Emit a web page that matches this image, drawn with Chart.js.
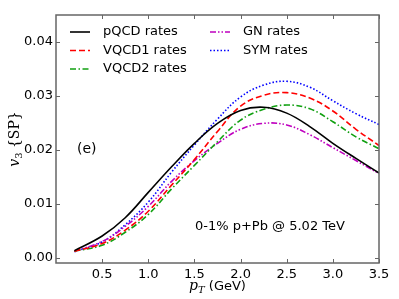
<!DOCTYPE html>
<html>
<head>
<meta charset="utf-8">
<script src="https://cdn.jsdelivr.net/npm/chart.js@4/dist/chart.umd.min.js"></script>
<style>
  html, body { margin: 0; padding: 0; background: #fff; }
  #wrap { width: 399px; height: 299px; }
</style>
</head>
<body>
<div id="wrap"><canvas id="c" width="399" height="299"></canvas></div>
<script>
// pT grid (GeV) and v3{SP} per rate model
const pT = [0.2, 0.5, 0.75, 1.0, 1.25, 1.5, 1.75, 2.0, 2.25, 2.5, 2.75, 3.0, 3.25, 3.5];
const pQCD  = [0.0013, 0.0040, 0.0074, 0.0121, 0.0168, 0.0212, 0.0249, 0.0273, 0.0279, 0.0268, 0.0243, 0.0212, 0.0184, 0.0157];
const VQCD1 = [0.0012, 0.0026, 0.0051, 0.0086, 0.0134, 0.0182, 0.0234, 0.0281, 0.0301, 0.0306, 0.0296, 0.0272, 0.0238, 0.0208];
const VQCD2 = [0.0012, 0.0023, 0.0047, 0.0080, 0.0127, 0.0171, 0.0215, 0.0255, 0.0275, 0.0283, 0.0276, 0.0252, 0.0224, 0.0202];
const GN    = [0.0012, 0.0030, 0.0058, 0.0095, 0.0141, 0.0180, 0.0212, 0.0238, 0.0249, 0.0246, 0.0228, 0.0204, 0.0180, 0.0156];
const SYM   = [0.0011, 0.0029, 0.0061, 0.0103, 0.0158, 0.0209, 0.0257, 0.0298, 0.0320, 0.0327, 0.0316, 0.0291, 0.0267, 0.0247];

const xTicks = [0.5, 1.0, 1.5, 2.0, 2.5, 3.0, 3.5];
const yTicks = [0.00, 0.01, 0.02, 0.03, 0.04];

const FONT = '"DejaVu Sans", sans-serif';
const AXIS = '#666';

function series(label, ys, color, dash) {
    return {
        label: label,
        data: pT.map((x, i) => ({ x: x, y: ys[i] })),
        borderColor: color,
        backgroundColor: color,
        borderWidth: 1.6,
        borderDash: dash,
        pointRadius: 0,
        fill: false,
        tension: 0.4
    };
}

// frame, inward ticks, legend, titles and annotations
const decorPlugin = {
    id: 'decor',
    afterDraw(chart) {
        const ctx = chart.ctx;
        const a = chart.chartArea;
        const xs = chart.scales.x, ys = chart.scales.y;
        ctx.save();

        // frame
        ctx.strokeStyle = AXIS;
        ctx.lineWidth = 1.5;
        ctx.setLineDash([]);
        ctx.strokeRect(a.left, a.top, a.right - a.left, a.bottom - a.top);

        // inward ticks on all four sides
        ctx.lineWidth = 1;
        const tl = 4;
        ctx.beginPath();
        xTicks.forEach(v => {
            const px = Math.round(xs.getPixelForValue(v)) + 0.5;
            ctx.moveTo(px, a.bottom); ctx.lineTo(px, a.bottom - tl);
            ctx.moveTo(px, a.top); ctx.lineTo(px, a.top + tl);
        });
        yTicks.forEach(v => {
            const py = Math.round(ys.getPixelForValue(v)) + 0.5;
            ctx.moveTo(a.left, py); ctx.lineTo(a.left + tl, py);
            ctx.moveTo(a.right, py); ctx.lineTo(a.right - tl, py);
        });
        ctx.stroke();

        // legend in two columns
        ctx.font = '13px ' + FONT;
        ctx.textBaseline = 'middle';
        ctx.textAlign = 'left';
        const cols = [[0, 1, 2], [3, 4]];
        const colX = [70, 210];
        cols.forEach((idxs, c) => {
            idxs.forEach((di, r) => {
                const ds = chart.data.datasets[di];
                const y = 32 + r * 18.5;
                ctx.strokeStyle = ds.borderColor;
                ctx.lineWidth = ds.borderWidth;
                ctx.setLineDash(ds.borderDash || []);
                ctx.beginPath();
                ctx.moveTo(colX[c], y);
                ctx.lineTo(colX[c] + 20, y);
                ctx.stroke();
                ctx.setLineDash([]);
                ctx.fillStyle = '#000';
                ctx.fillText(ds.label, colX[c] + 33, y);
            });
        });

        // panel tag and system label
        ctx.fillStyle = '#000';
        ctx.font = '14px ' + FONT;
        ctx.fillText('(e)', 77, 149);
        ctx.font = '13px ' + FONT;
        ctx.fillText('0-1% p+Pb @ 5.02 TeV', 195, 227);

        // x title: p_T (GeV)
        const cx = (a.left + a.right) / 2;
        ctx.textBaseline = 'alphabetic';
        ctx.font = 'italic 14px "DejaVu Serif", serif';
        const pw = ctx.measureText('p').width;
        ctx.font = 'italic 10px "DejaVu Serif", serif';
        const tw = ctx.measureText('T').width;
        ctx.font = '13px ' + FONT;
        const gw = ctx.measureText(' (GeV)').width;
        let x0 = cx - (pw + tw + gw) / 2;
        ctx.font = 'italic 14px "DejaVu Serif", serif';
        ctx.fillText('p', x0, 290);
        ctx.font = 'italic 10px "DejaVu Serif", serif';
        ctx.fillText('T', x0 + pw, 293);
        ctx.font = '13px ' + FONT;
        ctx.fillText(' (GeV)', x0 + pw + tw, 290);

        // y title: v_3 {SP}, rotated
        ctx.translate(19, (a.top + a.bottom) / 2);
        ctx.rotate(-Math.PI / 2);
        ctx.font = 'italic 14px "DejaVu Serif", serif';
        const vw = ctx.measureText('v').width;
        ctx.font = '10px "DejaVu Serif", serif';
        const sw = ctx.measureText('3').width;
        ctx.font = '14px "DejaVu Serif", serif';
        const bw = ctx.measureText(' {SP}').width;
        x0 = -(vw + sw + bw) / 2;
        ctx.font = 'italic 14px "DejaVu Serif", serif';
        ctx.fillText('v', x0, 0);
        ctx.font = '10px "DejaVu Serif", serif';
        ctx.fillText('3', x0 + vw, 3);
        ctx.font = '14px "DejaVu Serif", serif';
        ctx.fillText(' {SP}', x0 + vw + sw, 0);

        ctx.restore();
    }
};

new Chart(document.getElementById('c'), {
    type: 'line',
    data: {
        datasets: [
            series('pQCD rates', pQCD, '#000000', []),
            series('VQCD1 rates', VQCD1, '#ff0000', [6, 3]),
            series('VQCD2 rates', VQCD2, '#10a010', [6, 2.5, 1.5, 2.5]),
            series('GN rates', GN, '#bf00bf', [6, 2, 1.5, 2, 1.5, 2]),
            series('SYM rates', SYM, '#0000ff', [1.5, 2])
        ]
    },
    options: {
        responsive: false,
        animation: false,
        layout: { padding: { top: 15, right: 20, left: 0, bottom: 0 } },
        plugins: {
            legend: { display: false },
            tooltip: { enabled: false }
        },
        scales: {
            x: {
                type: 'linear',
                min: 0.0,
                max: 3.5,
                afterBuildTicks: s => { s.ticks = xTicks.map(v => ({ value: v })); },
                afterFit: s => { s.height = 36; },
                grid: { display: false, drawTicks: false },
                border: { display: false },
                ticks: {
                    color: '#000',
                    font: { family: FONT, size: 13 },
                    padding: 4,
                    maxRotation: 0,
                    callback: v => Number(v).toFixed(1)
                }
            },
            y: {
                type: 'linear',
                min: -0.001,
                max: 0.045,
                afterBuildTicks: s => { s.ticks = yTicks.map(v => ({ value: v })); },
                afterFit: s => { s.width = 56; },
                grid: { display: false, drawTicks: false },
                border: { display: false },
                ticks: {
                    color: '#000',
                    font: { family: FONT, size: 13 },
                    padding: 3,
                    callback: v => Number(v).toFixed(2)
                }
            }
        }
    },
    plugins: [decorPlugin]
});
</script>
</body>
</html>
